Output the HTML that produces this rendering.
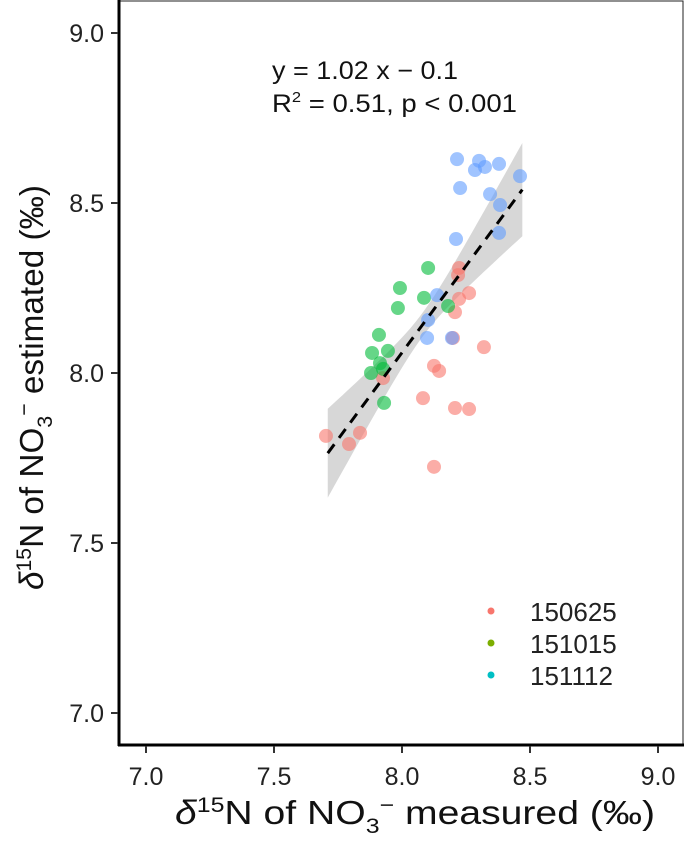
<!DOCTYPE html>
<html><head><meta charset="utf-8"><style>
html,body{margin:0;padding:0;background:#fff;}
svg{display:block;font-family:"Liberation Sans",sans-serif;}
</style></head><body>
<svg id="chart" width="685" height="851" xmlns="http://www.w3.org/2000/svg">
<text x="272" y="79" font-size="25" fill="#111" textLength="186" lengthAdjust="spacingAndGlyphs">y = 1.02 x − 0.1</text>
<text x="272" y="112" font-size="25" fill="#111" textLength="245" lengthAdjust="spacingAndGlyphs">R<tspan dy="-10" font-size="15">2</tspan><tspan dy="10"> = 0.51, p &lt; 0.001</tspan></text>
<text x="175" y="824" font-size="33" fill="#111" textLength="480" lengthAdjust="spacingAndGlyphs"><tspan font-style="italic">δ</tspan><tspan dy="-12" font-size="21">15</tspan><tspan dy="12">N of NO</tspan><tspan dy="9" font-size="21">3</tspan><tspan dy="-21" font-size="21">−</tspan><tspan dy="12"> measured (‰)</tspan></text>
<text transform="translate(43,590) rotate(-90)" font-size="33" fill="#111" textLength="405" lengthAdjust="spacingAndGlyphs"><tspan font-style="italic">δ</tspan><tspan dy="-12" font-size="21">15</tspan><tspan dy="12">N of NO</tspan><tspan dy="9" font-size="21">3</tspan><tspan dy="-21" font-size="21">−</tspan><tspan dy="12"> estimated (‰)</tspan></text>
</svg>
<script>
const xTicks=[7.0,7.5,8.0,8.5,9.0];
const yTicks=[7.0,7.5,8.0,8.5,9.0];
const groups=["150625","151015","151112"];
const redX=[7.703,7.793,7.836,8.125,8.145,8.082,8.207,8.262,8.125,8.320,8.199,7.926,8.223,8.219,8.262,8.223,8.207];
const redY=[7.815,7.791,7.824,8.021,8.006,7.926,7.897,7.894,7.724,8.076,8.103,7.985,8.309,8.288,8.235,8.218,8.179];
const greenX=[8.102,7.992,8.086,7.984,8.180,7.910,7.883,7.945,7.914,7.879,7.926,7.930];
const greenY=[8.309,8.250,8.221,8.191,8.197,8.112,8.059,8.065,8.029,8.000,8.012,7.912];
const blueX=[8.215,8.301,8.285,8.324,8.379,8.227,8.344,8.383,8.379,8.461,8.211,8.137,8.102,8.098,8.195];
const blueY=[8.629,8.624,8.597,8.606,8.615,8.544,8.526,8.494,8.412,8.579,8.394,8.229,8.156,8.103,8.103];
const slope=1.02, intercept=-0.1, fitMin=7.71, fitMax=8.47, fitMid=8.08;

const NS="http://www.w3.org/2000/svg";
const svg=document.getElementById('chart');
const sx=v=>146+(v-7)*256;
const sy=v=>33+(9-v)*340;
function el(t,a,p){const e=document.createElementNS(NS,t);for(const k in a)e.setAttribute(k,a[k]);(p||svg).appendChild(e);return e;}

const fr=el('rect',{x:119,y:1,width:564,height:744,fill:'none',stroke:'#222','stroke-width':1});



let upper=[],lower=[];
for(let i=0;i<=40;i++){const x=fitMin+(fitMax-fitMin)*i/40;const c=slope*x+intercept;const h=Math.sqrt(0.035*0.035+Math.pow(0.34*(x-fitMid),2));upper.push(sx(x)+','+sy(c+h));lower.unshift(sx(x)+','+sy(c-h));}
const band=el('polygon',{points:upper.concat(lower).join(' '),fill:'#bdbdbd','fill-opacity':0.6});



function pts(xs,ys,col,name){xs.forEach((x,i)=>{const c=el('circle',{cx:sx(x),cy:sy(ys[i]),r:7,fill:col,'fill-opacity':0.6});

});}
pts(redX,redY,'#F8766D','point-150625');
pts(greenX,greenY,'#00BA38','point-151015');
pts(blueX,blueY,'#619CFF','point-151112');

const ln=el('line',{x1:sx(fitMin),y1:sy(slope*fitMin+intercept),x2:sx(fitMax),y2:sy(slope*fitMax+intercept),stroke:'#000','stroke-width':3,'stroke-dasharray':'11,8'});



const ya=el('line',{x1:119,y1:0,x2:119,y2:746,stroke:'#000','stroke-width':3});


const xa=el('line',{x1:118,y1:745,x2:684,y2:745,stroke:'#000','stroke-width':3});


xTicks.forEach(t=>{el('line',{x1:sx(t),y1:746,x2:sx(t),y2:753,stroke:'#333','stroke-width':2});
const tx=el('text',{x:sx(t),y:785,'font-size':25,'text-anchor':'middle',fill:'#222'});tx.textContent=t.toFixed(1);

});
yTicks.forEach(t=>{el('line',{x1:111,y1:sy(t),x2:118,y2:sy(t),stroke:'#333','stroke-width':2});
const tx=el('text',{x:104,y:sy(t)+9,'font-size':25,'text-anchor':'end',fill:'#222'});tx.textContent=t.toFixed(1);

});

const lc=['#F8766D','#7CAE00','#00BFC4'];
groups.forEach((g,i)=>{const y=611+i*32;el('circle',{cx:491,cy:y,r:3.5,fill:lc[i]});
const t=el('text',{x:530,y:y+10,'font-size':26,fill:'#222'});t.textContent=g;

});
</script>
</body></html>
